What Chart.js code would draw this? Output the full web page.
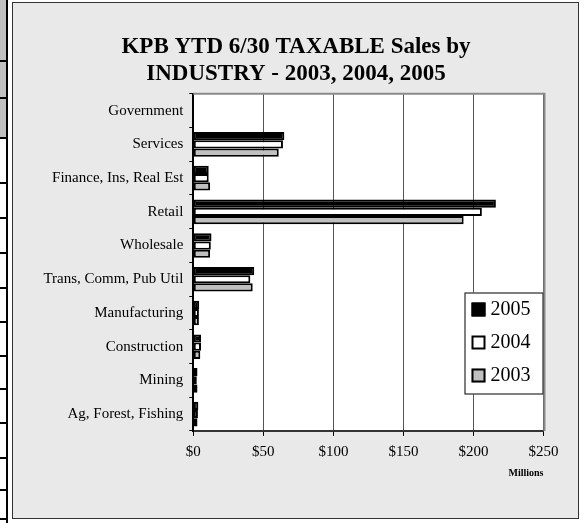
<!DOCTYPE html>
<html><head><meta charset="utf-8">
<script src="https://cdn.jsdelivr.net/npm/chart.js@4"></script>
<style>
html,body{margin:0;padding:0;background:#fff;width:587px;height:523px;overflow:hidden}
#panel{position:absolute;left:12px;top:2px;width:567px;height:517px;box-sizing:border-box;border:1px solid #333;background:#e9e9e9}
.cell{position:absolute;left:0;width:7px;background:#c0c0c0}
.hl{position:absolute;left:0;width:8px;height:2px;background:#000}
#vl{position:absolute;left:6px;top:0;width:2px;height:523px;background:#000}
canvas{position:absolute;left:0;top:0}
</style></head><body>
<div id="strip"></div>
<div id="panel"></div>
<canvas id="c" width="587" height="523"></canvas>
<script>
// ---- data ----
const categories = ["Government", "Services", "Finance, Ins, Real Est", "Retail", "Wholesale",
  "Trans, Comm, Pub Util", "Manufacturing", "Construction", "Mining", "Ag, Forest, Fishing"];
const seriesNames = ["2005", "2004", "2003"];
const values2005 = [0, 65, 11, 216, 13, 43.5, 4.2, 5.5, 3, 3.6];
const values2004 = [0, 64, 11, 206, 12.5, 40.7, 4, 5.5, 2.5, 3.3];
const values2003 = [0, 61, 12, 193, 12, 42.4, 4, 5, 3, 3];
const xTicks = [0, 50, 100, 150, 200, 250];
const titleLines = ["KPB YTD 6/30 TAXABLE Sales by", "INDUSTRY - 2003, 2004, 2005"];
const unitLabel = "Millions";

// ---- decorative left strip (cropped neighbouring table) ----
const strip = document.getElementById('strip');
const grayCells = [[0, 60], [62, 97], [99, 137]];
grayCells.forEach(([a, b]) => { const d = document.createElement('div'); d.className = 'cell'; d.style.top = a + 'px'; d.style.height = (b - a) + 'px'; strip.appendChild(d); });
[60, 97, 137, 182, 217, 252, 287, 321, 355, 388, 422, 457, 489, 518].forEach(y => { const d = document.createElement('div'); d.className = 'hl'; d.style.top = y + 'px'; strip.appendChild(d); });
const vl = document.createElement('div'); vl.id = 'vl'; strip.appendChild(vl);

const FONT = "'Liberation Serif', 'Times New Roman', serif";
const fills = ['#000000', '#ffffff', '#c0c0c0'];
const seriesValues = [values2005, values2004, values2003];

const plotPlugin = {
  id: 'plotDeco',
  beforeDraw(chart) {
    const { ctx, chartArea: a } = chart;
    ctx.save();
    ctx.fillStyle = '#ffffff';
    ctx.fillRect(a.left, a.top, a.right - a.left, a.bottom - a.top);
    ctx.restore();
  },
  afterDatasetsDraw(chart) {
    const { ctx, chartArea: a } = chart;
    ctx.save();
    ctx.strokeStyle = '#8a8a8a';
    ctx.lineWidth = 2;
    ctx.beginPath();
    ctx.moveTo(a.left, a.top);
    ctx.lineTo(a.right + 1, a.top);
    ctx.lineTo(a.right + 1, a.bottom);
    ctx.stroke();
    ctx.restore();
  },
  afterDraw(chart) {
    const { ctx, chartArea: a } = chart;
    const w = 79, h = 102;
    const x = a.right - w, y = a.bottom - 36.5 - h;
    ctx.save();
    ctx.fillStyle = '#fff';
    ctx.fillRect(x, y, w, h);
    ctx.strokeStyle = '#000';
    ctx.lineWidth = 1;
    ctx.strokeRect(x + 0.5, y + 0.5, w - 1, h - 1);
    chart.data.datasets.forEach((ds, i) => {
      const cy = y + 16.5 + i * 33;
      ctx.fillStyle = ds.backgroundColor;
      ctx.fillRect(x + 7, cy - 6.5, 14, 14);
      ctx.lineWidth = 2;
      ctx.strokeStyle = '#000';
      ctx.strokeRect(x + 8, cy - 5.5, 12, 12);
      ctx.fillStyle = '#000';
      ctx.font = "20px " + FONT;
      ctx.textBaseline = 'middle';
      ctx.textAlign = 'left';
      ctx.fillText(ds.label, x + 26, cy + 1);
    });
    ctx.restore();
  }
};

new Chart(document.getElementById('c'), {
  type: 'bar',
  data: {
    labels: categories,
    datasets: seriesNames.map((n, i) => ({
      label: n,
      data: seriesValues[i],
      backgroundColor: fills[i],
      borderColor: '#000',
      borderWidth: 2,
      borderSkipped: false,
      categoryPercentage: 0.73,
      barPercentage: 1.0,
      yAxisID: 'y',
      xAxisID: 'x'
    }))
  },
  options: {
    indexAxis: 'y',
    responsive: false,
    animation: false,
    devicePixelRatio: 1,
    layout: { padding: { left: 12, right: 7, top: 0, bottom: 0 } },
    plugins: {
      legend: { display: false },
      tooltip: { enabled: false },
      title: {
        display: true,
        text: titleLines,
        color: '#000',
        font: { family: FONT, size: 23, weight: 'bold', lineHeight: 1.17 },
        padding: { top: 33.5, bottom: 6.5 }
      }
    },
    scales: {
      x: {
        type: 'linear',
        position: 'bottom',
        min: 0, max: 250,
        afterFit(s) { s.height = 92; },
        afterBuildTicks(s) { s.ticks = xTicks.map(v => ({ value: v })); },
        ticks: {
          color: '#000',
          font: { family: FONT, size: 15 },
          padding: 7,
          callback: v => '$' + v
        },
        grid: { color: '#555', lineWidth: 1, tickLength: 5, tickColor: '#000' },
        border: { color: '#333', width: 2 },
        title: {
          display: true, text: unitLabel, align: 'end', color: '#000',
          font: { family: FONT, size: 10, weight: 'bold', lineHeight: 1.2 },
          padding: { top: 0, bottom: 44 }
        }
      },
      y: {
        type: 'category',
        position: 'left',
        afterFit(s) { s.width = 181.3; },
        ticks: { color: '#000', font: { family: FONT, size: 15 }, padding: 6 },
        grid: { offset: true, drawOnChartArea: false, tickLength: 4, color: '#000', tickColor: '#000' },
        border: { color: '#000', width: 2 }
      },
      yR: {
        axis: 'y',
        type: 'linear',
        position: 'right',
        display: true,
        afterFit(s) { s.width = 36.5; },
        ticks: { display: false },
        grid: { display: false },
        border: { display: false }
      }
    }
  },
  plugins: [plotPlugin]
});
</script>
</body></html>
